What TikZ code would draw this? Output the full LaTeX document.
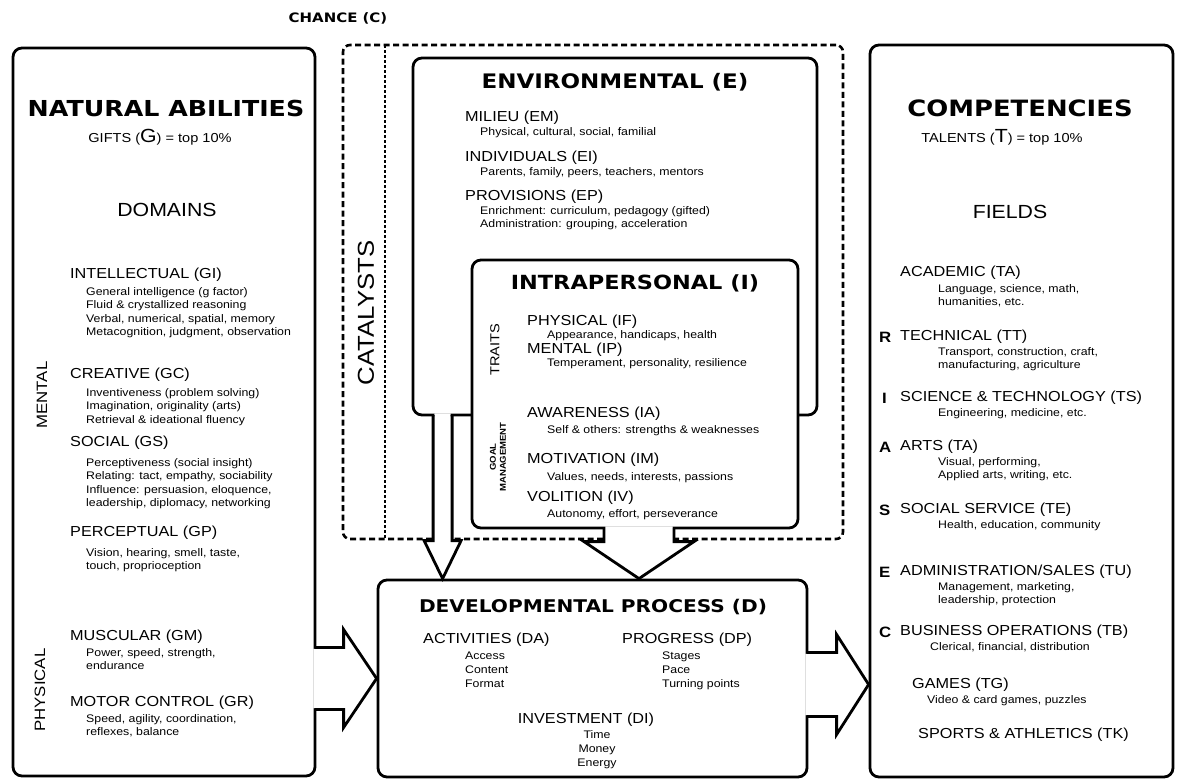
\documentclass[tikz,border=0pt]{standalone}
\usepackage{fontspec}
\setmainfont{Liberation Sans}[FakeStretch=1.12]
\newfontfamily\hd{DejaVu Sans}[FakeStretch=1.15]
\usetikzlibrary{calc,fit}
\begin{document}
\begin{tikzpicture}[x=1pt,y=-1pt,
  box/.style={draw, line width=2.8pt, rounded corners=9pt, inner sep=0pt},
  chancebox/.style={draw, line width=2.6pt, rounded corners=7pt, inner sep=0pt, dash pattern=on 6pt off 3.5pt},
  sepline/.style={line width=2pt, dash pattern=on 2.5pt off 2.5pt},
  barrow/.style={line width=2.8pt, line join=miter},
  bighd/.style={font=\hd\bfseries\fontsize{22}{24}\selectfont, inner sep=0pt},
  midhd/.style={font=\hd\bfseries\fontsize{20}{22}\selectfont, inner sep=0pt},
  sechd/.style={font=\fontsize{19}{21}\selectfont, inner sep=0pt},
  ttl/.style={font=\fontsize{14.5}{16}\selectfont, anchor=west, inner sep=0pt},
  sub/.style={font=\fontsize{11}{13.5}\selectfont, anchor=north west, align=left, inner sep=0pt},
  subc/.style={font=\fontsize{11}{14}\selectfont, anchor=north, align=center, inner sep=0pt},
  side/.style={font=\fontsize{15}{17}\selectfont, rotate=90, inner sep=0pt},
  hol/.style={font=\bfseries\fontsize{15}{16}\selectfont, anchor=west, inner sep=0pt},
]
\useasboundingbox (0,0) rectangle (1180,780);
\fill[white] (0,0) rectangle (1180,780);

% ---------- boxes ----------
\node[chancebox, fit={(343,45) (843,539)}] (chance) {};
\draw[sepline] ($(chance.north west)+(43,1.3)$) -- ($(chance.south west)+(43,-1.3)$);
\node[box, fit={(413,58) (817,415)}] (env) {};
\node[box, fill=white, fit={(472,260) (798,528)}] (intra) {};
\node[box, fit={(378,580) (807,777)}] (dev) {};
\node[box, fit={(13,48) (315,776)}] (gifts) {};
\node[box, fit={(870,45) (1173,777)}] (talents) {};

% ---------- block arrows ----------
% gifts -> dev
\coordinate (lg) at (gifts.east |- dev.west);
\fill[white] ($(lg)+(-3,-29.6)$) -- ($(dev.west)+(-33,-31)$) -- ($(dev.west)+(-33,-49)$) -- (dev.west)
  -- ($(dev.west)+(-33,49)$) -- ($(dev.west)+(-33,31)$) -- ($(lg)+(-3,29.6)$) -- cycle;
\draw[barrow] ($(lg)+(-1.4,-31)$) -- ($(dev.west)+(-33,-31)$) -- ($(dev.west)+(-33,-49)$) -- (dev.west)
  -- ($(dev.west)+(-33,49)$) -- ($(dev.west)+(-33,31)$) -- ($(lg)+(-1.4,31)$);
% dev -> talents
\coordinate (rb) at ($(dev.east)+(0,6)$);
\coordinate (rt) at (talents.west |- rb);
\fill[white] ($(rb)+(-3,-30.6)$) -- ($(rt)+(-32,-32)$) -- ($(rt)+(-32,-50)$) -- (rt)
  -- ($(rt)+(-32,50)$) -- ($(rt)+(-32,32)$) -- ($(rb)+(-3,30.6)$) -- cycle;
\draw[barrow] ($(rb)+(-1.4,-32)$) -- ($(rt)+(-32,-32)$) -- ($(rt)+(-32,-50)$) -- (rt)
  -- ($(rt)+(-32,50)$) -- ($(rt)+(-32,32)$) -- ($(rb)+(-1.4,32)$);
% env -> dev
\coordinate (etip) at ($(dev.north west)+(66,0)$);
\coordinate (etop) at (etip |- env.south);
\fill[white] ($(etop)+(-8.1,-3)$) -- ($(etip)+(-9.5,-38)$) -- ($(etip)+(-18.5,-38)$) -- (etip)
  -- ($(etip)+(18.5,-38)$) -- ($(etip)+(9.5,-38)$) -- ($(etop)+(8.1,-3)$) -- cycle;
\draw[barrow] ($(etop)+(-9.5,-1.4)$) -- ($(etip)+(-9.5,-38)$) -- ($(etip)+(-18.5,-38)$) -- (etip)
  -- ($(etip)+(18.5,-38)$) -- ($(etip)+(9.5,-38)$) -- ($(etop)+(9.5,-1.4)$);
% intra -> dev
\coordinate (itip) at ($(dev.north -| intra.south)+(4,0)$);
\coordinate (itop) at ($(intra.south)+(4,0)$);
\fill[white] ($(itop)+(-33.6,-3)$) -- ($(itip)+(-35,-37)$) -- ($(itip)+(-55,-37)$) -- (itip)
  -- ($(itip)+(55,-37)$) -- ($(itip)+(35,-37)$) -- ($(itop)+(33.6,-3)$) -- cycle;
\draw[barrow] ($(itop)+(-35,-1.4)$) -- ($(itip)+(-35,-37)$) -- ($(itip)+(-55,-37)$) -- (itip)
  -- ($(itip)+(55,-37)$) -- ($(itip)+(35,-37)$) -- ($(itop)+(35,-1.4)$);

% ---------- chance ----------
\node[font=\hd\bfseries\fontsize{13}{14}\selectfont, inner sep=0pt] (chancelbl) at (338,18) {CHANCE (C)};
\node[font=\fontsize{23}{24}\selectfont, rotate=90, inner sep=0pt] (cat) at (366,313) {CATALYSTS};

% ---------- natural abilities ----------
\node[bighd] (nat) at (166,108) {NATURAL ABILITIES};
\node[inner sep=0pt] (giftsl) at (160,137) {\fontsize{13}{14}\selectfont GIFTS (\fontsize{19}{20}\selectfont G\fontsize{13}{14}\selectfont) = top 10\%};
\node[sechd] (dom) at (167,210) {DOMAINS};
\node[side] (mental) at (42,395) {MENTAL};
\node[side] (physical) at (40,690) {PHYSICAL};

\node[ttl] (gi) at (70,275) {INTELLECTUAL (GI)};
\node[sub] (gis) at (86,287) {General intelligence (g factor)\\Fluid \& crystallized reasoning\\Verbal, numerical, spatial, memory\\Metacognition, judgment, observation};
\node[ttl] (gc) at (70,375) {CREATIVE (GC)};
\node[sub] (gcs) at (86,388) {Inventiveness (problem solving)\\Imagination, originality (arts)\\Retrieval \& ideational fluency};
\node[ttl] (gs) at (70,443) {SOCIAL (GS)};
\node[sub] (gss) at (86,458) {Perceptiveness (social insight)\\Relating: tact, empathy, sociability\\Influence: persuasion, eloquence,\\leadership, diplomacy, networking};
\node[ttl] (gp) at (70,533) {PERCEPTUAL (GP)};
\node[sub] (gps) at (86,548) {Vision, hearing, smell, taste,\\touch, proprioception};
\node[ttl] (gm) at (70,637) {MUSCULAR (GM)};
\node[sub] (gms) at (86,648) {Power, speed, strength,\\endurance};
\node[ttl] (gr) at (70,703) {MOTOR CONTROL (GR)};
\node[sub] (grs) at (86,714) {Speed, agility, coordination,\\reflexes, balance};

% ---------- environmental ----------
\node[midhd] (envt) at (615,82) {ENVIRONMENTAL (E)};
\node[ttl] (em) at (465,118) {MILIEU (EM)};
\node[sub] (ems) at (480,127) {Physical, cultural, social, familial};
\node[ttl] (ei) at (465,158) {INDIVIDUALS (EI)};
\node[sub] (eis) at (480,167) {Parents, family, peers, teachers, mentors};
\node[ttl] (ep) at (465,197) {PROVISIONS (EP)};
\node[sub] (eps) at (480,206) {Enrichment: curriculum, pedagogy (gifted)\\Administration: grouping, acceleration};

% ---------- intrapersonal ----------
\node[font=\hd\bfseries\fontsize{19.5}{21}\selectfont, inner sep=0pt] (intrat) at (635,283) {INTRAPERSONAL (I)};
\node[font=\fontsize{13}{14}\selectfont, rotate=90, inner sep=0pt] (traits) at (495,350) {TRAITS};
\node[font=\bfseries\fontsize{8.5}{10}\selectfont, rotate=90, align=center, inner sep=0pt] (goal) at (498,457) {GOAL\\MANAGEMENT};
\node[ttl] (if) at (527,322) {PHYSICAL (IF)};
\node[sub] (ifs) at (547,330) {Appearance, handicaps, health};
\node[ttl] (ip) at (527,350) {MENTAL (IP)};
\node[sub] (ips) at (547,358) {Temperament, personality, resilience};
\node[ttl] (iw) at (527,414) {AWARENESS (IA)};
\node[sub] (iws) at (547,425) {Self \& others: strengths \& weaknesses};
\node[ttl] (im) at (527,460) {MOTIVATION (IM)};
\node[sub] (ims) at (547,472) {Values, needs, interests, passions};
\node[ttl] (iv) at (527,498) {VOLITION (IV)};
\node[sub] (ivs) at (547,509) {Autonomy, effort, perseverance};

% ---------- developmental ----------
\node[font=\hd\bfseries\fontsize{17.5}{19}\selectfont, inner sep=0pt] (devt) at (593,607) {DEVELOPMENTAL PROCESS (D)};
\node[ttl] (da) at (423,640) {ACTIVITIES (DA)};
\node[sub, font=\fontsize{11}{14}\selectfont] (das) at (465,652) {Access\\Content\\Format};
\node[ttl] (dp) at (622,640) {PROGRESS (DP)};
\node[sub, font=\fontsize{11}{14}\selectfont] (dps) at (662,652) {Stages\\Pace\\Turning points};
\node[ttl, anchor=center] (di) at (586,720) {INVESTMENT (DI)};
\node[subc] (dis) at (597,730) {Time\\Money\\Energy};

% ---------- competencies ----------
\node[font=\hd\bfseries\fontsize{22.5}{24}\selectfont, inner sep=0pt] (comp) at (1020,108) {COMPETENCIES};
\node[inner sep=0pt] (talentsl) at (1002,137) {\fontsize{13}{14}\selectfont TALENTS (\fontsize{19}{20}\selectfont T\fontsize{13}{14}\selectfont) = top 10\%};
\node[sechd] (fields) at (1010,212) {FIELDS};

\node[ttl] (ta) at (900,273) {ACADEMIC (TA)};
\node[sub] (tas) at (938,284) {Language, science, math,\\humanities, etc.};
\node[hol] (hr) at (879,337) {R};
\node[ttl] (tt) at (900,337) {TECHNICAL (TT)};
\node[sub] (tts) at (938,347) {Transport, construction, craft,\\manufacturing, agriculture};
\node[hol] (hi) at (882,398) {I};
\node[ttl] (ts) at (900,398) {SCIENCE \& TECHNOLOGY (TS)};
\node[sub] (tss) at (938,408) {Engineering, medicine, etc.};
\node[hol] (ha) at (879,447) {A};
\node[ttl] (tr) at (900,447) {ARTS (TA)};
\node[sub] (trs) at (938,457) {Visual, performing,\\Applied arts, writing, etc.};
\node[hol] (hs) at (879,510) {S};
\node[ttl] (te) at (900,510) {SOCIAL SERVICE (TE)};
\node[sub] (tes) at (938,520) {Health, education, community};
\node[hol] (he) at (879,572) {E};
\node[ttl] (tu) at (900,572) {ADMINISTRATION/SALES (TU)};
\node[sub] (tus) at (938,582) {Management, marketing,\\leadership, protection};
\node[hol] (hc) at (879,632) {C};
\node[ttl] (tb) at (900,632) {BUSINESS OPERATIONS (TB)};
\node[sub] (tbs) at (930,642) {Clerical, financial, distribution};
\node[ttl] (tg) at (912,685) {GAMES (TG)};
\node[sub] (tgs) at (927,695) {Video \& card games, puzzles};
\node[ttl] (tk) at (918,735) {SPORTS \& ATHLETICS (TK)};
\end{tikzpicture}
\end{document}
